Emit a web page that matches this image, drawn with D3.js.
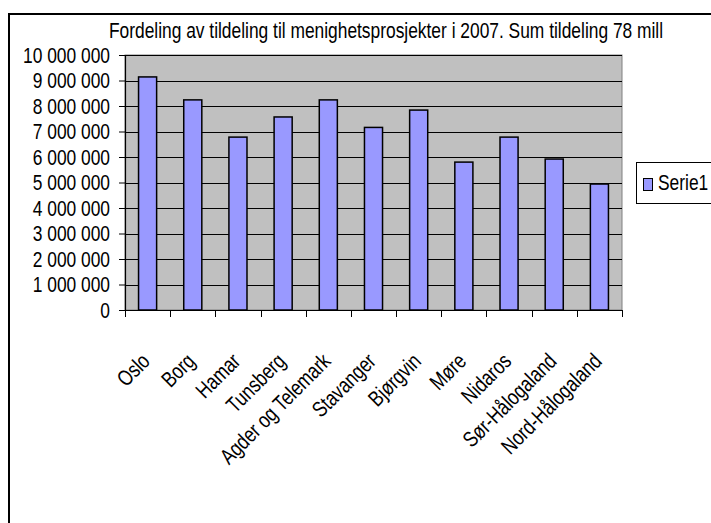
<!DOCTYPE html>
<html>
<head>
<meta charset="utf-8">
<script src="https://cdn.jsdelivr.net/npm/d3@7/dist/d3.min.js"></script>
<style>
  html, body { margin: 0; padding: 0; background: #fff; }
  text { font-family: "Liberation Sans", Arial, sans-serif; fill: #000; }
</style>
</head>
<body>
<svg id="chart" width="711" height="523"></svg>
<script>
const title = "Fordeling av tildeling til menighetsprosjekter i 2007. Sum tildeling 78 mill";
const categories = ["Oslo", "Borg", "Hamar", "Tunsberg", "Agder og Telemark", "Stavanger",
  "Bjørgvin", "Møre", "Nidaros", "Sør-Hålogaland", "Nord-Hålogaland"];
const seriesName = "Serie1";
const values = [9140000, 8240000, 6780000, 7570000, 8240000, 7160000,
  7840000, 5800000, 6780000, 5920000, 4940000];
const yTicks = [0, 1000000, 2000000, 3000000, 4000000, 5000000, 6000000, 7000000, 8000000, 9000000, 10000000];

const svg = d3.select("#chart");
const SX = 0.79; // horizontal compression of the narrow font
const FS = 22;

const plot = { left: 125, right: 622, top: 55, bottom: 310 };

// outer chart border
svg.append("rect").attr("x", 9).attr("y", 14).attr("width", 760).attr("height", 560)
  .attr("fill", "#fff").attr("stroke", "#000").attr("stroke-width", 2);

const x = d3.scaleBand().domain(categories).range([plot.left, plot.right]).paddingInner(0.6).paddingOuter(0.3);
const xb = d3.scaleBand().domain(categories).range([plot.left, plot.right]);
const y = d3.scaleLinear().domain([0, 10000000]).range([plot.bottom, plot.top]);

// plot area background
svg.append("rect").attr("x", plot.left).attr("y", plot.top)
  .attr("width", plot.right - plot.left).attr("height", plot.bottom - plot.top)
  .attr("fill", "#C0C0C0").attr("stroke", "#808080").attr("stroke-width", 1);

// gridlines
svg.append("g").selectAll("line").data(yTicks.filter(d => d > 0)).join("line")
  .attr("x1", plot.left).attr("x2", plot.right)
  .attr("y1", d => Math.round(y(d)) + 0.5).attr("y2", d => Math.round(y(d)) + 0.5)
  .attr("stroke", "#000").attr("stroke-width", 1);

// bars
svg.append("g").selectAll("rect").data(values).join("rect")
  .attr("x", (d, i) => x(categories[i]))
  .attr("width", x.bandwidth())
  .attr("y", d => y(d))
  .attr("height", d => y(0) - y(d))
  .attr("fill", "#9999FF").attr("stroke", "#000").attr("stroke-width", 1.5);

const fmt = v => d3.format(",")(v).replace(/,/g, " ");

// y axis
const yAxis = svg.append("g").attr("transform", `translate(${plot.left},0)`)
  .call(d3.axisLeft(y).tickValues(yTicks).tickSize(6).tickFormat(""));
yAxis.select(".domain").attr("stroke", "#000").attr("stroke-width", 1.2);
yAxis.selectAll(".tick line").attr("stroke", "#000");
svg.append("g").selectAll("text").data(yTicks).join("text")
  .attr("transform", d => `translate(110,${y(d)}) scale(${SX},1)`)
  .attr("text-anchor", "end").attr("dy", "0.36em")
  .style("font-size", FS + "px")
  .text(d => fmt(d));

// x axis
const xAxis = svg.append("g").attr("transform", `translate(0,${plot.bottom})`)
  .call(d3.axisBottom(xb).tickSize(0).tickFormat(""));
xAxis.select(".domain").attr("stroke", "#000").attr("stroke-width", 1.2);
const bounds = categories.map(c => xb(c)).concat([plot.right]);
svg.append("g").selectAll("line").data(bounds).join("line")
  .attr("x1", d => Math.round(d) + 0.5).attr("x2", d => Math.round(d) + 0.5)
  .attr("y1", plot.bottom).attr("y2", plot.bottom + 7)
  .attr("stroke", "#000").attr("stroke-width", 1);

svg.append("g").selectAll("text").data(categories).join("text")
  .attr("transform", d => `translate(${xb(d) + xb.bandwidth() / 2 - 2},357) rotate(-45) scale(${SX},1)`)
  .attr("text-anchor", "end").attr("dy", "0.36em")
  .style("font-size", FS + "px")
  .text(d => d);

// title
svg.append("text")
  .attr("transform", `translate(386,38) scale(${SX},1)`)
  .attr("text-anchor", "middle")
  .style("font-size", FS + "px")
  .text(title);

// legend
const lg = svg.append("g");
lg.append("rect").attr("x", 636.5).attr("y", 162.5).attr("width", 100).attr("height", 41)
  .attr("fill", "#fff").attr("stroke", "#000").attr("stroke-width", 1);
lg.append("rect").attr("x", 643.5).attr("y", 178.5).attr("width", 9).attr("height", 12)
  .attr("fill", "#9999FF").attr("stroke", "#000").attr("stroke-width", 1);
lg.append("text").attr("transform", `translate(658,190) scale(${SX},1)`)
  .style("font-size", FS + "px").text(seriesName);
</script>
</body>
</html>
